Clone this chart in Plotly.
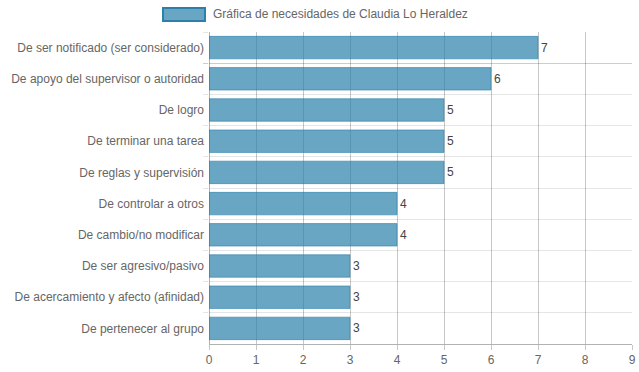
import plotly.graph_objects as go

categories = [
    "De ser notificado (ser considerado)",
    "De apoyo del supervisor o autoridad",
    "De logro",
    "De terminar una tarea",
    "De reglas y supervisión",
    "De controlar a otros",
    "De cambio/no modificar",
    "De ser agresivo/pasivo",
    "De acercamiento y afecto (afinidad)",
    "De pertenecer al grupo",
]
values = [7, 6, 5, 5, 5, 4, 4, 3, 3, 3]
x_ticks = list(range(0, 10))
legend_label = "Gráfica de necesidades de Claudia Lo Heraldez"

FONT = "Arial, Liberation Sans, Helvetica, sans-serif"

fig = go.Figure()
fig.add_trace(go.Bar(
    y=categories,
    x=values,
    orientation="h",
    marker=dict(color="rgba(42,128,171,0.7)", line=dict(color="rgba(42,128,171,0.6)", width=1)),
    text=values,
    texttemplate="%{x}",
    textposition="outside",
    textfont=dict(family=FONT, size=12, color="#444"),
    cliponaxis=False,
    name=legend_label,
    showlegend=False,
    hoverinfo="x+y",
))

fig.update_layout(
    width=639, height=372,
    margin=dict(l=209, r=7, t=32, b=28, autoexpand=False),
    plot_bgcolor="white", paper_bgcolor="white",
    bargap=0.28,
    font=dict(family=FONT, size=12, color="#666"),
    xaxis=dict(
        range=[0, 9.0001], tickvals=x_ticks, showgrid=True, automargin=False,
        gridcolor="rgba(0,0,0,0.22)", gridwidth=1,
        ticks="outside", ticklen=5, tickcolor="rgba(0,0,0,0.22)",
        showline=True, linecolor="rgba(0,0,0,0.3)", linewidth=1,
        zeroline=True, zerolinecolor="rgba(0,0,0,0.3)", zerolinewidth=1,
        tickfont=dict(size=12, color="#666"), fixedrange=True,
    ),
    yaxis=dict(
        type="category", autorange="reversed", tickson="boundaries", automargin=False,
        showgrid=True, gridcolor="rgba(0,0,0,0.1)", gridwidth=1,
        ticks="outside", ticklen=5, tickcolor="rgba(0,0,0,0.1)",
        ticklabelstandoff=4,
        tickfont=dict(size=12, color="#666"), fixedrange=True,
    ),
    shapes=[dict(
        type="rect", xref="paper", yref="paper",
        x0=-0.1087, x1=-0.0095, y0=1.0353, y1=1.0769,
        fillcolor="rgba(42,128,171,0.7)",
        line=dict(color="rgba(42,128,171,1)", width=2),
    )],
    annotations=[dict(
        text=legend_label, xref="paper", yref="paper",
        x=0.0047, y=1.0577, xanchor="left", yanchor="middle",
        showarrow=False, font=dict(family=FONT, size=12, color="#666"),
    )],
)

fig.write_html(
    "out.html",
    config={"displayModeBar": False},
    post_script="document.body.style.margin='0';document.body.style.padding='0';",
)
